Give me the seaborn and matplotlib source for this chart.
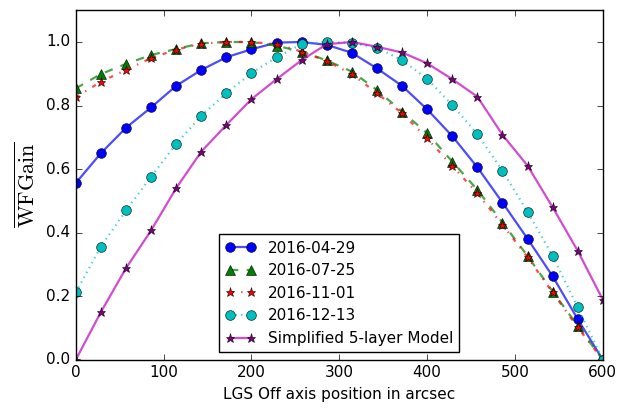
import numpy as np
import pandas as pd
import matplotlib
matplotlib.use("Agg")
import matplotlib.pyplot as plt
import matplotlib.colors as mcolors
import seaborn as sns

plt.style.use("classic")
plt.rcParams["font.family"] = ["DejaVu Sans"]
plt.rcParams["mathtext.fontset"] = "cm"

x_pos = [i * 600 / 21 for i in range(22)]

d_0429 = [0.556, 0.650, 0.730, 0.794, 0.862, 0.912, 0.952, 0.977, 0.998, 1.0,
          0.991, 0.966, 0.917, 0.862, 0.788, 0.704, 0.606, 0.495, 0.381, 0.263,
          0.128, 0.0]
d_0725 = [0.854, 0.899, 0.931, 0.959, 0.978, 0.996, 1.0, 1.0, 0.988, 0.970,
          0.942, 0.907, 0.849, 0.781, 0.713, 0.624, 0.535, 0.432, 0.327, 0.215,
          0.107, 0.0]
d_1101 = [0.826, 0.875, 0.912, 0.949, 0.976, 0.995, 1.0, 1.0, 0.993, 0.970,
          0.940, 0.899, 0.839, 0.776, 0.697, 0.610, 0.524, 0.425, 0.323, 0.212,
          0.102, 0.0]
d_1213 = [0.212, 0.356, 0.470, 0.576, 0.679, 0.768, 0.839, 0.902, 0.952, 0.993,
          1.0, 0.997, 0.982, 0.943, 0.884, 0.802, 0.710, 0.595, 0.466, 0.327,
          0.165, 0.0]
model5 = [0.0, 0.150, 0.288, 0.407, 0.540, 0.655, 0.739, 0.820, 0.883, 0.943,
          0.993, 1.0, 0.985, 0.967, 0.933, 0.883, 0.828, 0.708, 0.611, 0.480,
          0.343, 0.189]

labels = ["2016-04-29", "2016-07-25", "2016-11-01", "2016-12-13",
          "Simplified 5-layer Model"]
series = [d_0429, d_0725, d_1101, d_1213, model5]

styles = [
    dict(color="b", linestyle="-", marker="o", markersize=7, mfc="b"),
    dict(color="g", linestyle="--", marker="^", markersize=6.5, mfc="g"),
    dict(color="r", linestyle="-.", marker="*", markersize=6.5, mfc="r"),
    dict(color="c", linestyle=":", marker="o", markersize=7, mfc="c"),
    dict(color="m", linestyle="-", marker="*", markersize=6.5, mfc="purple"),
]

fig = plt.figure(figsize=(6.26, 4.08), dpi=100, facecolor="white")
ax = fig.add_axes([0.121, 0.118, 0.842, 0.857])
ax.set_facecolor("white")

for lab, vals, st in zip(labels, series, styles):
    df = pd.DataFrame({"x": x_pos, "y": vals})
    sns.lineplot(data=df, x="x", y="y", ax=ax, label=lab,
                 color=st["color"], linestyle=st["linestyle"],
                 marker=st["marker"], markersize=st["markersize"],
                 markerfacecolor=st["mfc"], markeredgecolor="k",
                 markeredgewidth=0.5, linewidth=1.6, legend=False)
    line = ax.lines[-1]
    line.set_alpha(None)
    line.set_color(mcolors.to_rgba(st["color"], 0.7))
    line.set_markerfacecolor(mcolors.to_rgba(st["mfc"], 1.0))
    line.set_markeredgecolor((0, 0, 0, 0.8))
    line.set_label(lab)

ax.set_xlim(0, 600)
ax.set_ylim(0, 1.1)
ax.set_xticks([0, 100, 200, 300, 400, 500, 600])
ax.set_yticks([0.0, 0.2, 0.4, 0.6, 0.8, 1.0])
ax.tick_params(labelsize=11)
ax.set_xlabel("LGS Off axis position in arcsec", fontsize=11)
ax.set_ylabel(r"$\overline{\mathrm{WFGain}}$", fontsize=16)
leg = ax.legend(loc="lower center", fontsize=11, numpoints=2,
                fancybox=False, framealpha=1)
leg.get_frame().set_edgecolor("k")

fig.savefig("out.png", dpi=100, facecolor="white")
